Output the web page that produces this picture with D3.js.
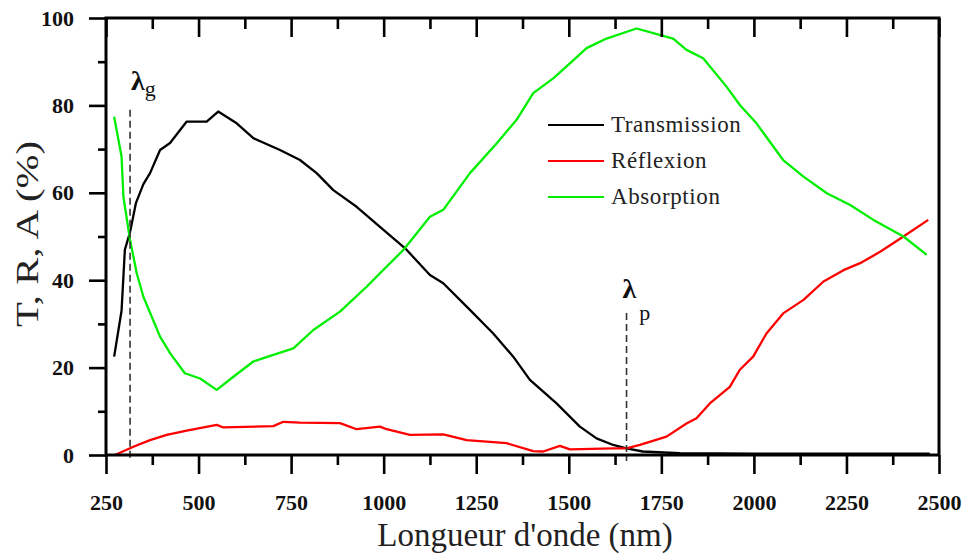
<!DOCTYPE html>
<html><head><meta charset="utf-8">
<script src="https://cdn.jsdelivr.net/npm/d3@7"></script>
<style>body{margin:0;background:#fff}svg{display:block}
svg text{font-family:"Liberation Serif","Times New Roman",Times,serif !important}</style>
</head><body>
<svg id="c" width="965" height="556"></svg>
<script>
// ---- data ----
const seriesNames = ["Transmission", "Réflexion", "Absorption"];
const seriesColors = ["#000000", "#ff0000", "#00ee00"];

const transWl  = [272,292,301,315,331,351,369,396,423,468,522,553,603,648,720,774,819,864,927,990,1058,1125,1161,1233,1296,1350,1395,1467,1530,1575,1620,1656,1700,1800,2000,2250,2475];
const transVal = [22.5,33,47,51,57.7,62,64.5,69.8,71.4,76.3,76.3,78.6,75.9,72.5,69.8,67.5,64.5,60.6,56.8,52.2,47.3,41.2,39.3,33.2,27.8,22.5,17.2,11.8,6.5,3.8,2.3,1.5,0.8,0.4,0.3,0.3,0.3];

const reflWl  = [274,324,369,414,468,549,567,702,729,774,882,927,990,1008,1071,1161,1224,1332,1404,1431,1476,1503,1620,1656,1692,1764,1818,1845,1881,1935,1962,1998,2034,2079,2134,2188,2242,2287,2341,2404,2471];
const reflVal = [0,1.9,3.4,4.6,5.6,6.9,6.3,6.6,7.6,7.4,7.3,5.9,6.5,5.9,4.6,4.7,3.4,2.7,0.9,0.8,2.1,1.3,1.5,1.5,2.3,4.2,7.2,8.4,11.8,15.6,19.5,22.5,27.8,32.4,35.5,39.7,42.3,43.9,46.5,50,53.8];

const absWl  = [272,292,297,315,333,351,396,423,463,504,549,594,648,702,756,810,882,954,990,1053,1125,1161,1233,1305,1359,1404,1458,1503,1548,1602,1683,1755,1782,1818,1863,1926,1962,2007,2079,2134,2197,2260,2323,2404,2467];
const absVal = [77.4,68.3,59.1,49.2,41.6,36.2,27.1,23.3,18.7,17.5,14.9,17.9,21.4,22.9,24.4,28.6,32.8,38.5,41.6,46.9,54.5,56.1,64.5,71.3,76.7,82.8,86.2,89.6,93.1,95.3,97.6,95.9,95.3,92.7,90.8,84.3,80.1,75.9,67.5,63.7,59.9,57.2,53.8,50,45.8];

const xMajorTicks = [250,500,750,1000,1250,1500,1750,2000,2250,2500];
const xMinorTicks = [375,625,875,1125,1375,1625,1875,2125,2375];
const yMajorTicks = [0,20,40,60,80,100];
const yMinorTicks = [10,30,50,70,90];

const markerWl = [315, 1656];
const markerTop = [79, 32.5];

// ---- layout ----
const svg = d3.select("#c");
const m = {l:106, t:18, r:26, b:101};
const W = 965 - m.l - m.r, H = 556 - m.t - m.b;
const x = d3.scaleLinear().domain([250,2500]).range([m.l, m.l+W]);
const y = d3.scaleLinear().domain([0,100]).range([m.t+H, m.t]);

const series = [
  {wl:transWl, v:transVal},
  {wl:reflWl, v:reflVal},
  {wl:absWl, v:absVal}
];

const line = d3.line().x(d=>x(d[0])).y(d=>y(d[1]));
series.forEach((s,i)=>{
  svg.append("path")
    .attr("d", line(s.wl.map((w,j)=>[w,s.v[j]])))
    .attr("fill","none").attr("stroke",seriesColors[i]).attr("stroke-width",2.3)
    .attr("stroke-linejoin","round");
});

// dashed markers
markerWl.forEach((w,i)=>{
  svg.append("line")
    .attr("x1",x(w)).attr("x2",x(w))
    .attr("y1",y(markerTop[i])).attr("y2",y(0)+6)
    .attr("stroke","#333").attr("stroke-width",1.6).attr("stroke-dasharray","7,4");
});
// lambda labels
const lg = svg.append("text").attr("fill","#111");
lg.attr("x",x(315)+1).attr("y",90);
lg.append("tspan").text("λ").attr("font-size",28).attr("font-weight","bold");
lg.append("tspan").text("g").attr("font-size",22).attr("dy",6);
const lp = svg.append("text").attr("fill","#111");
lp.attr("x",x(1656)-4).attr("y",298);
lp.append("tspan").text("λ").attr("font-size",28).attr("font-weight","bold");
lp.append("tspan").text("p").attr("font-size",22).attr("dy",22).attr("dx",3);

// axes
const xb = svg.append("g").attr("transform",`translate(0,${m.t+H})`);
xb.call(d3.axisBottom(x).tickValues(xMajorTicks).tickSize(19).tickPadding(20).tickFormat(d3.format("d")));
xb.append("g").call(d3.axisBottom(x).tickValues(xMinorTicks).tickSize(10).tickFormat(""));
const xt = svg.append("g").attr("transform",`translate(0,${m.t})`);
xt.call(d3.axisBottom(x).tickValues(xMajorTicks).tickSize(19).tickFormat(""));
xt.append("g").call(d3.axisBottom(x).tickValues(xMinorTicks).tickSize(11).tickFormat(""));
const yl = svg.append("g").attr("transform",`translate(${m.l},0)`);
yl.call(d3.axisLeft(y).tickValues(yMajorTicks).tickSize(17).tickPadding(15).tickFormat(d3.format("d")));
yl.append("g").call(d3.axisLeft(y).tickValues(yMinorTicks).tickSize(8).tickFormat(""));

svg.selectAll(".domain").remove();
svg.selectAll(".tick line").attr("stroke","#000").attr("stroke-width",2.6);
svg.selectAll(".tick text").attr("font-weight","bold")
   .attr("font-size",22).attr("fill","#111");
// frame
svg.append("rect").attr("x",m.l).attr("y",m.t).attr("width",W).attr("height",H)
  .attr("fill","none").attr("stroke","#000").attr("stroke-width",3);

// legend
const legY = [125,161,197];
seriesNames.forEach((n,i)=>{
  svg.append("line").attr("x1",548).attr("x2",604).attr("y1",legY[i]).attr("y2",legY[i])
    .attr("stroke",seriesColors[i]).attr("stroke-width",2.2);
  svg.append("text").attr("x",611).attr("y",legY[i]+7).text(n)
    .attr("font-size",23).attr("fill","#222").attr("letter-spacing",0.6);
});

// titles
svg.append("text").attr("x",525).attr("y",546).attr("text-anchor","middle")
  .attr("font-size",33).attr("fill","#222")
  .text("Longueur d'onde (nm)");
svg.append("text").attr("transform","translate(38,234) rotate(-90)").attr("text-anchor","middle")
  .attr("font-size",32).attr("fill","#222")
  .attr("textLength",186).attr("lengthAdjust","spacingAndGlyphs")
  .text("T, R, A (%)");
</script>
</body></html>
